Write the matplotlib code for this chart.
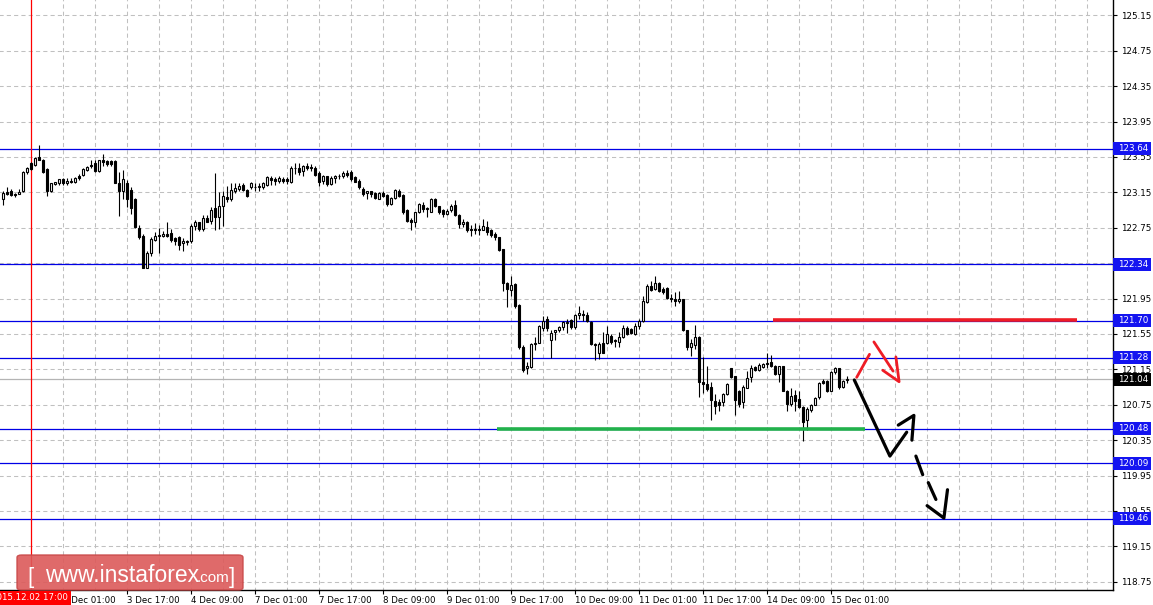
import matplotlib
matplotlib.use('Agg')
import matplotlib.pyplot as plt
from matplotlib.patches import Rectangle, FancyBboxPatch

# ---------------- data (H1 candles) ----------------
opens = [123.07,123.15,123.16,123.13,123.13,123.16,123.38,123.48,123.46,123.55,
         123.51,123.41,123.16,123.24,123.25,123.30,123.25,123.28,123.27,123.33,
         123.35,123.40,123.46,123.48,123.39,123.51,123.50,123.50,123.50,123.25,
         123.16,123.26,123.18,123.07,122.75,122.66,122.30,122.47,122.61,122.66,
         122.66,122.68,122.69,122.63,122.64,122.58,122.59,122.60,122.77,122.81,
         122.74,122.86,122.83,122.97,122.87,122.99,123.10,123.08,123.16,123.19,
         123.23,123.18,123.21,123.21,123.21,123.21,123.23,123.31,123.30,123.28,
         123.30,123.30,123.27,123.43,123.43,123.39,123.45,123.44,123.43,123.37,
         123.28,123.33,123.24,123.31,123.33,123.33,123.37,123.38,123.32,123.28,
         123.19,123.14,123.16,123.14,123.08,123.14,123.12,123.02,123.09,123.16,
         123.12,122.95,122.84,122.82,122.93,123.01,122.97,122.93,123.07,123.00,
         122.95,122.91,122.95,123.01,122.89,122.79,122.82,122.74,122.74,122.74,
         122.73,122.76,122.73,122.68,122.65,122.51,122.13,122.05,122.11,121.88,
         121.40,121.16,121.18,121.44,121.45,121.62,121.72,121.48,121.57,121.59,
         121.63,121.67,121.71,121.63,121.76,121.77,121.76,121.69,121.44,121.33,
         121.45,121.45,121.53,121.48,121.46,121.52,121.62,121.61,121.55,121.64,
         121.70,121.91,122.09,122.06,122.12,122.06,122.07,121.96,121.94,121.92,
         121.94,121.59,121.40,121.43,121.52,121.01,120.99,120.95,120.79,120.78,
         120.78,120.87,121.16,121.07,120.90,120.78,120.94,121.06,121.18,121.14,
         121.18,121.22,121.23,121.19,121.10,121.19,120.90,120.76,120.86,120.81,
         120.72,120.58,120.69,120.75,120.84,121.02,121.02,120.91,121.12,121.16,
         120.95,121.03]
highs = [123.17,123.21,123.19,123.14,123.19,123.39,123.44,123.49,123.55,123.69,
         123.53,123.42,123.26,123.27,123.30,123.31,123.31,123.31,123.32,123.36,
         123.42,123.45,123.51,123.51,123.52,123.58,123.51,123.51,123.51,123.38,
         123.40,123.29,123.21,123.09,122.78,122.68,122.49,122.64,122.70,122.75,
         122.71,122.82,122.74,122.65,122.66,122.63,122.61,122.79,122.84,122.82,
         122.89,122.89,122.98,123.37,123.15,123.17,123.22,123.26,123.26,123.25,
         123.25,123.19,123.27,123.25,123.26,123.27,123.33,123.34,123.32,123.33,
         123.32,123.32,123.45,123.48,123.48,123.46,123.48,123.47,123.45,123.39,
         123.35,123.34,123.34,123.35,123.36,123.39,123.40,123.40,123.33,123.30,
         123.21,123.17,123.17,123.15,123.15,123.16,123.13,123.10,123.19,123.19,
         123.13,122.96,122.86,122.93,123.03,123.04,122.98,123.09,123.09,123.00,
         122.96,122.96,123.02,123.06,122.90,122.85,122.83,122.78,122.80,122.78,
         122.85,122.83,122.74,122.70,122.65,122.51,122.14,122.20,122.12,121.89,
         121.42,121.23,121.45,121.51,121.65,121.75,121.75,121.59,121.60,121.64,
         121.70,121.72,121.72,121.77,121.87,121.82,121.80,121.70,121.45,121.46,
         121.57,121.64,121.55,121.49,121.57,121.65,121.64,121.62,121.67,121.72,
         121.98,122.11,122.15,122.21,122.14,122.08,122.08,122.00,122.02,122.03,
         121.95,121.59,121.49,121.65,121.53,121.29,121.19,121.01,120.87,120.82,
         120.88,121.00,121.17,121.08,120.92,120.97,121.13,121.20,121.19,121.22,
         121.22,121.34,121.31,121.20,121.19,121.19,120.92,120.94,120.92,120.90,
         120.74,120.72,120.76,120.84,121.01,121.04,121.03,121.13,121.18,121.17,
         121.03,121.08]
lows = [123.01,123.12,123.11,123.10,123.13,123.15,123.36,123.40,123.45,123.51,
        123.37,123.11,123.15,123.23,123.23,123.23,123.23,123.25,123.25,123.29,
        123.33,123.39,123.43,123.38,123.38,123.45,123.45,123.45,123.25,122.88,
        123.08,122.98,122.90,122.75,122.62,122.29,122.29,122.43,122.60,122.47,
        122.64,122.64,122.59,122.56,122.50,122.49,122.56,122.58,122.73,122.71,
        122.71,122.81,122.79,122.72,122.74,122.77,123.04,123.05,123.14,123.17,
        123.17,123.10,123.19,123.17,123.16,123.19,123.22,123.23,123.23,123.26,
        123.26,123.24,123.26,123.36,123.35,123.33,123.40,123.39,123.33,123.22,
        123.24,123.22,123.23,123.26,123.30,123.31,123.32,123.28,123.27,123.19,
        123.11,123.08,123.10,123.08,123.07,123.10,123.00,123.01,123.08,123.10,
        122.90,122.82,122.73,122.76,122.92,122.93,122.87,122.93,122.98,122.91,
        122.87,122.89,122.93,122.88,122.75,122.76,122.70,122.66,122.68,122.67,
        122.72,122.67,122.65,122.61,122.49,122.03,121.85,121.98,121.84,121.38,
        121.12,121.10,121.16,121.37,121.45,121.58,121.58,121.28,121.48,121.57,
        121.60,121.56,121.61,121.61,121.72,121.70,121.69,121.43,121.26,121.27,
        121.33,121.44,121.44,121.40,121.40,121.50,121.54,121.55,121.54,121.61,
        121.69,121.90,122.04,122.05,122.02,122.00,121.94,121.91,121.87,121.90,
        121.58,121.37,121.30,121.38,120.84,120.88,120.91,120.58,120.65,120.68,
        120.74,120.86,121.05,120.63,120.72,120.71,120.94,121.01,121.13,121.13,
        121.16,121.16,121.18,121.09,121.01,120.90,120.68,120.74,120.68,120.71,
        120.34,120.46,120.67,120.75,120.82,120.99,120.89,120.90,121.10,120.93,
        120.94,121.00]
closes = [123.14,123.13,123.12,123.12,123.15,123.38,123.42,123.41,123.54,123.52,
          123.38,123.16,123.25,123.27,123.30,123.25,123.28,123.27,123.31,123.31,
          123.41,123.44,123.45,123.39,123.51,123.49,123.47,123.47,123.25,123.16,
          123.30,123.07,122.97,122.76,122.65,122.30,122.47,122.62,122.66,122.66,
          122.68,122.66,122.61,122.60,122.56,122.60,122.60,122.77,122.82,122.74,
          122.86,122.82,122.95,122.87,122.99,123.11,123.08,123.18,123.20,123.22,
          123.18,123.11,123.25,123.21,123.22,123.25,123.32,123.29,123.28,123.31,
          123.28,123.28,123.43,123.42,123.38,123.45,123.43,123.42,123.35,123.27,
          123.33,123.24,123.31,123.33,123.34,123.37,123.35,123.30,123.27,123.21,
          123.13,123.16,123.13,123.09,123.14,123.11,123.02,123.09,123.18,123.11,
          122.93,122.83,122.82,122.93,123.02,122.96,122.96,123.08,123.00,122.93,
          122.90,122.94,123.00,122.89,122.79,122.82,122.72,122.72,122.72,122.72,
          122.77,122.70,122.67,122.64,122.50,122.13,122.06,122.10,121.87,121.40,
          121.14,121.19,121.44,121.45,121.64,121.70,121.62,121.56,121.59,121.63,
          121.68,121.69,121.63,121.76,121.79,121.76,121.70,121.44,121.42,121.44,
          121.34,121.55,121.46,121.47,121.52,121.62,121.55,121.56,121.64,121.70,
          121.92,122.09,122.05,122.12,122.04,122.02,121.96,121.94,121.92,121.95,
          121.59,121.40,121.45,121.52,121.01,120.99,120.93,120.80,120.74,120.75,
          120.87,120.99,121.06,120.80,120.76,120.95,121.05,121.17,121.14,121.20,
          121.21,121.21,121.19,121.10,121.19,120.90,120.76,120.85,120.79,120.73,
          120.56,120.70,120.75,120.83,121.00,121.00,120.90,121.12,121.16,120.95,
          121.02,121.04]

price_ticks = [125.15, 124.75, 124.35, 123.95, 123.55, 123.15, 122.75, 122.35,
               121.95, 121.55, 121.15, 120.75, 120.35, 119.95, 119.55, 119.15, 118.75]
time_tick_bars = [15, 31, 47, 63, 79, 95, 111, 127, 143, 159, 175, 191, 207]
time_tick_labels = ["3 Dec 01:00", "3 Dec 17:00", "4 Dec 09:00", "7 Dec 01:00",
                    "7 Dec 17:00", "8 Dec 09:00", "9 Dec 01:00", "9 Dec 17:00",
                    "10 Dec 09:00", "11 Dec 01:00", "11 Dec 17:00", "14 Dec 09:00",
                    "15 Dec 01:00"]
cursor_bar = 7
cursor_label = "2015.12.02 17:00"
levels = [123.64, 122.34, 121.70, 121.28, 120.48, 120.09, 119.46]
current_price = 121.04
resistance = (192.6, 268.6, 121.71)   # x-start bar, x-end bar, price
support = (123.6, 215.6, 120.48)

# hand drawn forecast arrows (bar index, price)
black_path = [(212.9, 121.03), (221.8, 120.17), (226.0, 120.44)]
black_head = [(223.9, 120.52), (227.8, 120.63), (227.3, 120.35)]
black_dash1 = [(228.3, 120.17), (230.0, 119.96)]
black_dash2 = [(231.4, 119.87), (233.3, 119.68)]
black_head2 = [(231.1, 119.61), (235.3, 119.47), (236.2, 119.79)]
red_up = [(213.5, 121.06), (216.7, 121.32)]
red_down = [(217.8, 121.46), (222.6, 121.13)]
red_head = [(220.0, 121.14), (224.1, 121.01), (223.3, 121.29)]

# ---------------- figure ----------------
W, H = 1153, 605
fig = plt.figure(figsize=(W / 100, H / 100), dpi=100)
fig.patch.set_facecolor('white')
ax = fig.add_axes([0, 15 / H, 1113 / W, 590 / H])
ax.set_xlim(-0.675, 277.575)
ax.set_ylim(118.657, 125.323)
for s in ['top', 'left']:
    ax.spines[s].set_visible(False)
for s in ['right', 'bottom']:
    ax.spines[s].set_color('black')
    ax.spines[s].set_linewidth(1.0)

grid_kw = dict(colors='#c0c0c0', linestyles=(0, (4, 3)), linewidth=0.75, zorder=0)
ax.hlines(price_ticks, -1, 280, **grid_kw)
ax.vlines([cursor_bar + 8 * k for k in range(1, 34)], 118, 126, **grid_kw)

# level lines
for p in levels:
    ax.axhline(p, color='#0000e6', lw=0.9, zorder=1)
ax.axhline(current_price, color='#b4b4b4', lw=0.9, zorder=1)
ax.axvline(cursor_bar, color='#ff0000', lw=0.9, zorder=1)

# candles
n = len(closes)
xs = list(range(n))
ax.vlines(xs, lows, highs, colors='black', linewidth=0.8, zorder=3)
bottoms = [min(o, c) for o, c in zip(opens, closes)]
heights = [max(abs(c - o), 0.004) for o, c in zip(opens, closes)]
fcols = ['white' if c >= o else 'black' for o, c in zip(opens, closes)]
ax.bar(xs, heights, bottom=bottoms, width=0.55, color=fcols, edgecolor='black',
       linewidth=0.8, zorder=4)

# support / resistance
ax.plot([resistance[0], resistance[1]], [resistance[2]] * 2, color='#ee1c25', lw=2.6,
        solid_capstyle='butt', zorder=5)
ax.plot([support[0], support[1]], [support[2]] * 2, color='#22b14c', lw=2.6,
        solid_capstyle='butt', zorder=5)

# arrows
def draw(path, color, lw=2.3):
    ax.plot([p[0] for p in path], [p[1] for p in path], color=color, lw=lw,
            solid_capstyle='round', solid_joinstyle='round', zorder=6)

for pth in [black_path, black_head, black_dash1, black_dash2, black_head2]:
    draw(pth, 'black')
for pth in [red_up, red_down, red_head]:
    draw(pth, '#ee1c25', 2.0)

# right price axis
ax.yaxis.tick_right()
ax.set_yticks(price_ticks)
ax.set_yticklabels([f"{p:.2f}" for p in price_ticks])
ax.tick_params(axis='y', direction='out', length=3, width=0.8, pad=2.5,
               labelsize=6.3, colors='black')
ax.set_xticks(time_tick_bars)
ax.set_xticklabels(time_tick_labels, ha='left')
ax.tick_params(axis='x', direction='out', length=3, width=0.8, pad=1,
               labelsize=6.2, colors='black')

ytr = ax.get_yaxis_transform()
hh = 6.5 / 88.52
bw = 38 / 1113
for p in levels + [current_price]:
    fc = 'black' if p == current_price else '#1414f0'
    ax.add_patch(Rectangle((1.0, p - hh), bw, 2 * hh, transform=ytr, clip_on=False,
                           facecolor=fc, edgecolor='none', zorder=10))
    ax.text(1.0 + 5 / 1113, p, f"{p:.2f}", transform=ytr, color='white', fontsize=6.3,
            va='center', ha='left', zorder=11, clip_on=False)

# cursor time label
xtr = ax.get_xaxis_transform()
ax.text(cursor_bar - 0.3, -8 / 590, cursor_label, transform=xtr, color='white',
        fontsize=6.2, ha='center', va='center', zorder=12, clip_on=False,
        bbox=dict(boxstyle='square,pad=0.3', fc='#ff0000', ec='none'))

# watermark
fx = lambda px: px / W
fy = lambda py: (H - py) / H
box = FancyBboxPatch((fx(17), fy(590)), fx(243) - fx(17), fy(555) - fy(590),
                     boxstyle='round,pad=0,rounding_size=0.004', transform=fig.transFigure,
                     facecolor='#dc5a5a', edgecolor='#c84848', alpha=0.9, lw=1, zorder=20)
fig.patches.append(box)
tk = dict(color='white', va='baseline', zorder=21, family='Liberation Sans')
fig.text(fx(27), fy(583), '[', fontsize=16, **tk)
fig.text(fx(45), fy(582), 'www.instaforex', fontsize=16.5, **tk)
fig.text(fx(197), fy(582), '.com', fontsize=11, **tk)
fig.text(fx(229), fy(583), ']', fontsize=16, **tk)

fig.savefig('out.png', dpi=100, facecolor='white')
